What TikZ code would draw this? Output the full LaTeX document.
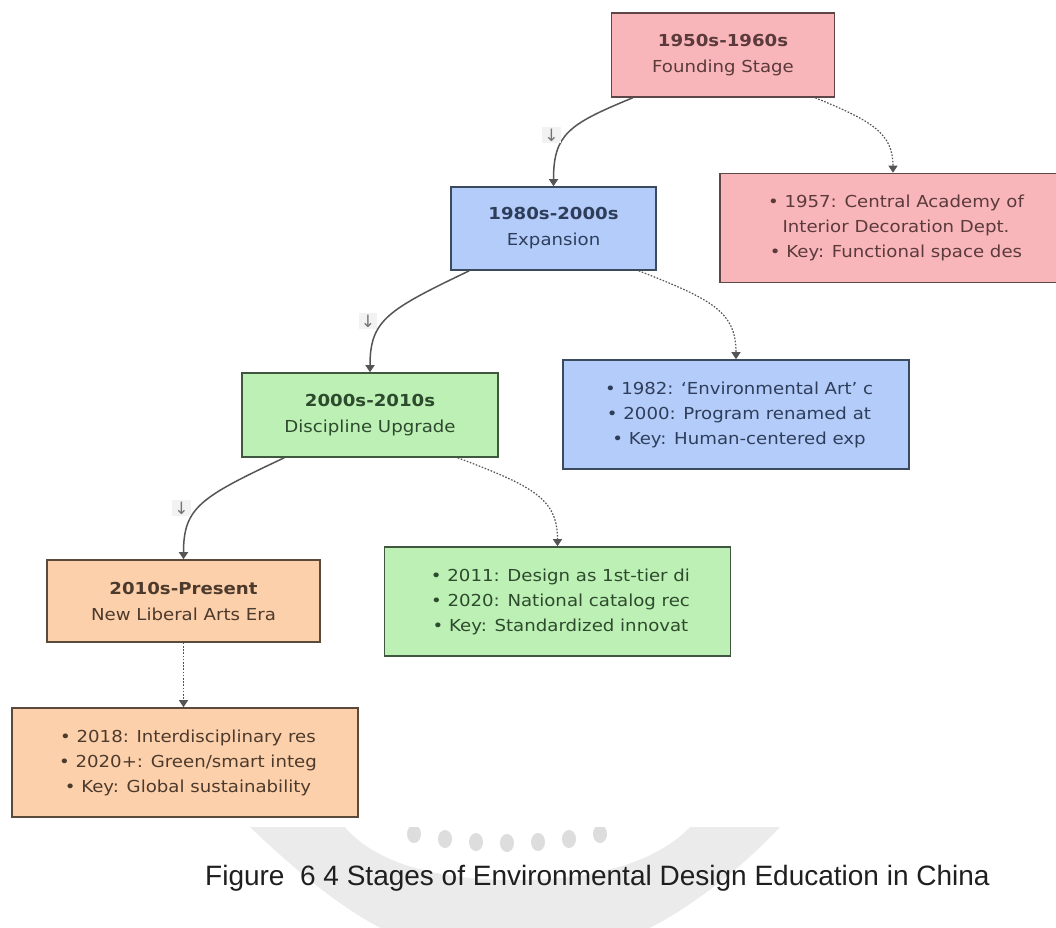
\documentclass[tikz,border=0pt]{standalone}
\usepackage{fontspec}
\setmainfont{DejaVu Sans}[FakeStretch=1.1]
\newfontfamily\capfont{Liberation Sans}
\newfontfamily\glyphfont{DejaVu Sans}
\usetikzlibrary{arrows.meta,calc}

\definecolor{pinkfill}{HTML}{F9B6BA}
\definecolor{pinkline}{HTML}{5E4646}
\definecolor{pinktext}{HTML}{5A3A3A}
\definecolor{bluefill}{HTML}{B4CCF9}
\definecolor{blueline}{HTML}{3C4A5E}
\definecolor{bluetext}{HTML}{2E3E5A}
\definecolor{greenfill}{HTML}{BDF0B4}
\definecolor{greenline}{HTML}{3F573F}
\definecolor{greentext}{HTML}{2E4A2E}
\definecolor{peachfill}{HTML}{FDD0AC}
\definecolor{peachline}{HTML}{5A4A3C}
\definecolor{peachtext}{HTML}{4C3A2C}
\definecolor{edgegray}{HTML}{555555}
\definecolor{wmgray}{HTML}{EBEBEB}
\definecolor{dotgray}{HTML}{DDDDDD}

\hfuzz=\maxdimen
\hbadness=10000
% one bullet line: centred when it fits, otherwise running off to the right
\newcommand\dline[1]{\hbox to 268pt{\hfil#1\hfil}}

\begin{document}
\begin{tikzpicture}[x=1pt,y=-1pt,
  stage/.style={draw, line width=1.6pt, inner sep=0pt, align=center,
    font=\fontsize{16.5}{26}\selectfont},
  detailbox/.style={draw, line width=1.6pt, inner sep=0pt,
    minimum width=346pt, minimum height=109pt},
  detailtext/.style={inner sep=0pt, align=center,
    font=\fontsize{16.5}{25}\selectfont},
  flow/.style={draw=edgegray, line width=1.5pt,
    -{Triangle[width=9pt,length=7pt]}},
  link/.style={draw=edgegray, line width=1.2pt, dash pattern=on 1.6pt off 1.6pt,
    -{Triangle[width=9pt,length=7pt]}},
  steplabel/.style={fill=black!5, inner xsep=2pt, inner ysep=2pt, text=black!55,
    font=\glyphfont\fontsize{17}{17}\selectfont}
]
\useasboundingbox (0,0) rectangle (1056,927);
\fill[white] (0,0) rectangle (1056,927);

% faint crest behind the caption
\begin{scope}
  \clip (0,827) rectangle (1056,927);
  \fill[wmgray] (250,827) .. controls (300,875) and (350,915) .. (395,935)
    -- (635,935) .. controls (680,915) and (735,875) .. (780,827) -- cycle;
  \fill[white] (345,827) .. controls (380,868) and (450,880) .. (515,880)
    .. controls (580,880) and (650,868) .. (690,827) -- cycle;
  \foreach \k in {0,...,6}
    \fill[dotgray] ({414+31*\k},{834+9*(1-((\k-3)/3)^2)}) ellipse (7 and 9);
\end{scope}

% stage boxes
\node[stage, fill=pinkfill, draw=pinkline, text=pinktext,
  minimum width=223pt, minimum height=84pt] (A) at (723,55)
  {\textbf{1950s-1960s}\\Founding Stage};
\node[stage, fill=bluefill, draw=blueline, text=bluetext,
  minimum width=205pt, minimum height=83pt] (B) at (553.5,228.5)
  {\textbf{1980s-2000s}\\Expansion};
\node[stage, fill=greenfill, draw=greenline, text=greentext,
  minimum width=256pt, minimum height=84pt] (C) at (370,415)
  {\textbf{2000s-2010s}\\Discipline Upgrade};
\node[stage, fill=peachfill, draw=peachline, text=peachtext,
  minimum width=273pt, minimum height=82pt] (D) at (183.5,601)
  {\textbf{2010s-Present}\\New Liberal Arts Era};

% detail boxes
\node[detailbox, fill=pinkfill, draw=pinkline] (Ad) at (893,228) {};
\begin{scope}
  \clip ([xshift=38pt]Ad.south west) rectangle ([xshift=-36pt]Ad.north east);
  \node[detailtext, text=pinktext] (Adtext) at ([xshift=3pt]Ad.center)
    {\dline{• 1957: Central Academy of}\\
     \dline{Interior Decoration Dept.}\\
     \dline{• Key: Functional space des}};
\end{scope}

\node[detailbox, fill=bluefill, draw=blueline] (Bd) at (736,414.5) {};
\begin{scope}
  \clip ([xshift=38pt]Bd.south west) rectangle ([xshift=-36pt]Bd.north east);
  \node[detailtext, text=bluetext] (Bdtext) at ([xshift=3pt]Bd.center)
    {\dline{• 1982: ‘Environmental Art’ c}\\
     \dline{• 2000: Program renamed at}\\
     \dline{• Key: Human-centered exp}};
\end{scope}

\node[detailbox, fill=greenfill, draw=greenline] (Cd) at (557.5,601.5) {};
\begin{scope}
  \clip ([xshift=38pt]Cd.south west) rectangle ([xshift=-36pt]Cd.north east);
  \node[detailtext, text=greentext] (Cdtext) at ([xshift=3pt]Cd.center)
    {\dline{• 2011: Design as 1st-tier di}\\
     \dline{• 2020: National catalog rec}\\
     \dline{• Key: Standardized innovat}};
\end{scope}

\node[detailbox, fill=peachfill, draw=peachline] (Dd) at (185,762.5) {};
\begin{scope}
  \clip ([xshift=38pt]Dd.south west) rectangle ([xshift=-36pt]Dd.north east);
  \node[detailtext, text=peachtext] (Ddtext) at ([xshift=3pt]Dd.center)
    {\dline{• 2018: Interdisciplinary res}\\
     \dline{• 2020+: Green/smart integ}\\
     \dline{• Key: Global sustainability}};
\end{scope}

% succession of stages
\draw[flow] ([xshift=22pt]A.south west)
  .. controls ($(B.north)+(15,-62)$) and ($(B.north)+(0,-52)$) .. (B.north);
\draw[flow] ([xshift=19pt]B.south west)
  .. controls ($(C.north)+(17,-62)$) and ($(C.north)+(0,-52)$) .. (C.north);
\draw[flow] ([xshift=43pt]C.south west)
  .. controls ($(D.north)+(17,-62)$) and ($(D.north)+(0,-52)$) .. (D.north);
\node[steplabel] (l1) at ($(B.north)+(-2,-51)$) {↓};
\node[steplabel] (l2) at ($(C.north)+(-2,-51)$) {↓};
\node[steplabel] (l3) at ($(D.north)+(-2,-51)$) {↓};

% notes of each stage
\draw[link] ([xshift=-20pt]A.south east)
  .. controls ($(Ad.north)+(-22,-52)$) and ($(Ad.north)+(0,-40)$) .. (Ad.north);
\draw[link] ([xshift=-18pt]B.south east)
  .. controls ($(Bd.north)+(-25,-60)$) and ($(Bd.north)+(0,-48)$) .. (Bd.north);
\draw[link] ([xshift=-41pt]C.south east)
  .. controls ($(Cd.north)+(-25,-60)$) and ($(Cd.north)+(0,-48)$) .. (Cd.north);
\draw[link] (D.south) -- (D.south |- Dd.north);

% caption
\node[anchor=base west, inner sep=0pt, text=black!88,
  font=\capfont\fontsize{28}{28}\selectfont] (cap) at (205,885)
  {Figure\ \ 6 4 Stages of Environmental Design Education in China};
\end{tikzpicture}
\end{document}
